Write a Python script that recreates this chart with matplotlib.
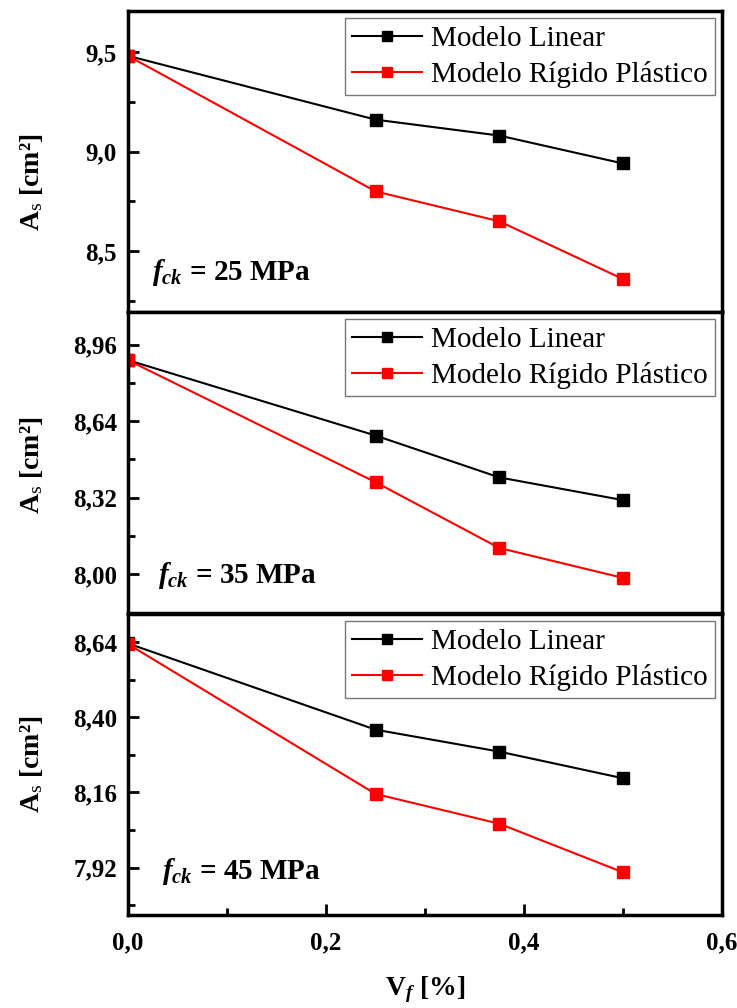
import matplotlib
matplotlib.use("Agg")
import matplotlib.pyplot as plt
from matplotlib.ticker import MultipleLocator, FuncFormatter

# Fibre volume fraction (%)
vf = [0.0, 0.25, 0.375, 0.5]

# A_s [cm2], one pair of series per concrete class
linear_25 = [9.48, 9.16, 9.08, 8.94]
rigid_25 = [9.48, 8.80, 8.65, 8.36]
linear_35 = [8.895, 8.58, 8.405, 8.31]
rigid_35 = [8.895, 8.385, 8.11, 7.985]
linear_45 = [8.635, 8.36, 8.29, 8.205]
rigid_45 = [8.633, 8.155, 8.06, 7.905]

fck_labels = ["25", "35", "45"]
series_names = ["Modelo Linear", "Modelo Rígido Plástico"]

plt.rcParams["font.family"] = ["Liberation Serif", "DejaVu Serif"]
plt.rcParams["mathtext.fontset"] = "custom"
plt.rcParams["mathtext.rm"] = "Liberation Serif"
plt.rcParams["mathtext.it"] = "Liberation Serif:italic"
plt.rcParams["mathtext.bf"] = "Liberation Serif:bold"
plt.rcParams["mathtext.bfit"] = "Liberation Serif:italic:bold"

panels = [
    (linear_25, rigid_25, (8.195, 9.705), 0.5, 0.25, "{:.1f}"),
    (linear_35, rigid_35, (7.838, 9.096), 0.32, 0.16, "{:.2f}"),
    (linear_45, rigid_45, (7.769, 8.729), 0.24, 0.12, "{:.2f}"),
]

fig = plt.figure(figsize=(7.37, 10.08), dpi=100)
left, width, height = 0.1737, 0.806, 0.2986
bottoms = [0.6905, 0.3918, 0.0923]
text_pos = [(0.04, 0.13), (0.05, 0.125), (0.058, 0.145)]
ylabel_y = [0.43, 0.49, 0.5]

for i, (lin, rig, ylim, major, minor, fmt) in enumerate(panels):
    ax = fig.add_axes([left, bottoms[i], width, height])
    ax.plot(vf, lin, color="black", lw=1.5, marker="s", ms=8, mec="black",
            label=series_names[0])
    ax.plot(vf, rig, color="red", lw=1.5, marker="s", ms=8, mec="red",
            label=series_names[1])
    ax.set_xlim(0.0, 0.6)
    ax.set_ylim(*ylim)
    ax.yaxis.set_major_locator(MultipleLocator(major))
    ax.yaxis.set_minor_locator(MultipleLocator(minor))
    ax.yaxis.set_major_formatter(
        FuncFormatter(lambda v, p, f=fmt: f.format(v).replace(".", ",")))
    ax.xaxis.set_major_locator(MultipleLocator(0.2))
    ax.xaxis.set_minor_locator(MultipleLocator(0.1))
    ax.xaxis.set_major_formatter(
        FuncFormatter(lambda v, p: "{:.1f}".format(v).replace(".", ",")))
    ax.tick_params(which="both", direction="in", width=2, labelsize=18, pad=8)
    ax.tick_params(which="major", length=8)
    ax.tick_params(which="minor", length=5)
    for lab in ax.get_yticklabels() + ax.get_xticklabels():
        lab.set_fontweight("bold")
    if i < 2:
        ax.tick_params(axis="x", which="both", bottom=False, labelbottom=False)
    else:
        ax.tick_params(axis="x", pad=12)
        ax.set_xlabel(r"V$_\mathbfit{f}$ [%]", fontsize=20, fontweight="bold",
                      labelpad=14)
    for sp in ax.spines.values():
        sp.set_linewidth(2.5)
    ax.set_ylabel("A$_\\mathrm{s}$ [cm²]", fontsize=20, fontweight="bold")
    ax.yaxis.set_label_coords(-0.14, ylabel_y[i])
    leg = ax.legend(loc="upper right", fontsize=21, frameon=True, fancybox=False,
                    handlelength=2.4, handletextpad=0.3, borderpad=0.25,
                    labelspacing=0.3, borderaxespad=0.25, markerscale=0.9)
    leg.get_frame().set_edgecolor("#555555")
    leg.get_frame().set_linewidth(1.0)
    tx, ty = text_pos[i]
    ax.text(tx, ty, r"$\mathbfit{f}_{\mathbfit{ck}}$ = " + fck_labels[i] + " MPa",
            transform=ax.transAxes, fontsize=21, fontweight="bold", va="center")

fig.savefig("out.png", dpi=100)
